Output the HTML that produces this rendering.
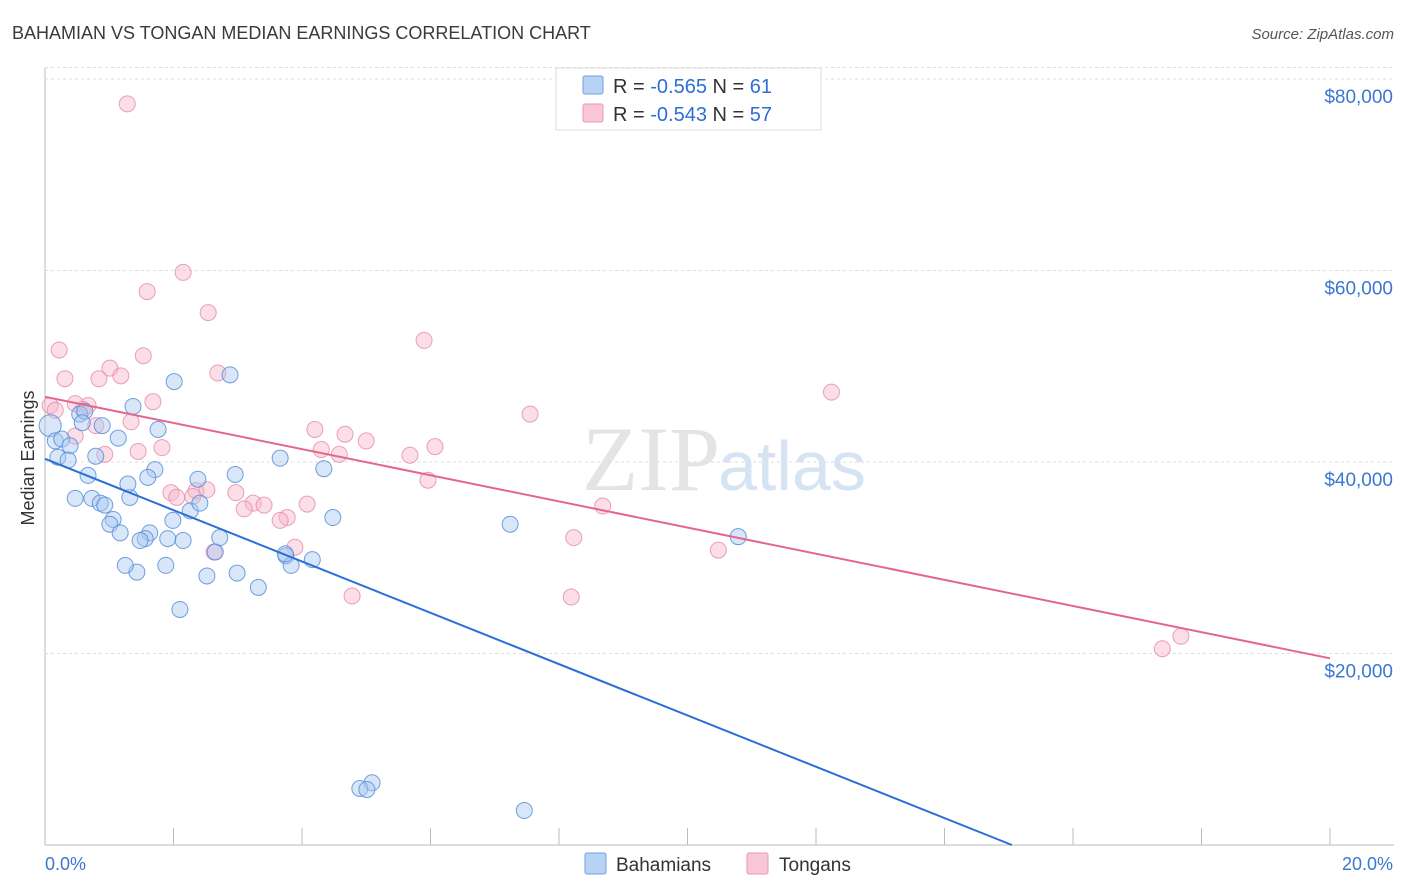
<!DOCTYPE html>
<html><head><meta charset="utf-8"><style>
body{margin:0;background:#fff;font-family:"Liberation Sans",sans-serif;}
svg{display:block}
</style></head><body>
<svg id="c" width="1406" height="892">
<text x="12" y="39" font-size="18" fill="#3a3a3a">BAHAMIAN VS TONGAN MEDIAN EARNINGS CORRELATION CHART</text>
<text x="1394" y="39" font-size="15" fill="#555" font-style="italic" text-anchor="end">Source: ZipAtlas.com</text>
<text x="34" y="458" font-size="18" fill="#333" text-anchor="middle" transform="rotate(-90 34 458)">Median Earnings</text>
<g id="grid"></g>
<text x="720" y="490" font-size="92" fill="#e4e4e4" text-anchor="end" font-family="Liberation Serif">ZIP</text>
<text x="718" y="490" font-size="70" fill="#d6e3f3">atlas</text>
<g id="pts"></g>
<g id="lines"></g>
<g>
<rect x="556" y="68" width="265" height="62" fill="#fff" stroke="#ddd"/>
<rect x="583" y="76" width="20" height="18" fill="#b8d2f4" stroke="#6fa0e0" rx="2"/>
<rect x="583" y="104" width="20" height="18" fill="#f8c6d4" stroke="#e89ab2" rx="2"/>
<text x="613" y="93" font-size="20" fill="#333">R = <tspan fill="#2b6fd6">-0.565</tspan>   N =  <tspan fill="#2b6fd6">61</tspan></text>
<text x="613" y="121" font-size="20" fill="#333">R = <tspan fill="#2b6fd6">-0.543</tspan>   N = <tspan fill="#2b6fd6">57</tspan></text>
</g>
<g>
<rect x="585" y="853" width="21" height="21" fill="#b8d2f4" stroke="#6fa0e0" rx="2"/>
<text x="616" y="871" font-size="19" fill="#333">Bahamians</text>
<rect x="747" y="853" width="21" height="21" fill="#f8c6d4" stroke="#e89ab2" rx="2"/>
<text x="779" y="871" font-size="19" fill="#333">Tongans</text>
</g>
<text x="45" y="870" font-size="18" fill="#3a78d0">0.0%</text>
<text x="1393" y="870" font-size="18" fill="#3a78d0" text-anchor="end">20.0%</text>
</svg>
<script>
const yTicks=[20000,40000,60000,80000];
const yTickLabels=["$20,000","$40,000","$60,000","$80,000"];
const xTicks=[0,2,4,6,8,10,12,14,16,18,20];
const bahamianX=[0.08,0.16,0.26,0.39,0.2,0.36,0.54,0.62,0.58,0.89,1.14,0.79,0.67,0.47,0.73,0.86,0.93,1.32,1.29,1.37,1.76,1.71,1.6,1.06,1.01,1.17,1.63,1.56,1.48,1.99,1.91,2.15,2.26,2.41,2.38,2.01,2.88,2.96,3.66,4.34,4.48,2.72,2.99,2.52,3.32,3.75,3.83,4.16,1.88,1.43,1.25,2.1,2.65,7.24,10.79,5.09,4.9,5.01,7.46,3.74];
const bahamianY=[43800,42200,42400,41700,40500,40200,45000,45300,44100,43800,42500,40600,38600,36200,36200,35700,35500,36300,37700,45800,43400,39200,38400,34000,33500,32600,32600,32000,31800,33900,32000,31800,34900,35700,38200,48400,49100,38700,40400,39300,34200,32100,28400,28100,26900,30200,29200,29800,29200,28500,29200,24600,30600,33500,32200,6500,5900,5800,3600,30400];
const tonganX=[1.28,2.15,1.59,2.54,0.22,1.53,0.31,0.84,1.01,1.18,2.69,5.9,12.24,7.55,0.08,0.16,0.59,0.67,1.68,1.34,0.79,0.47,4.2,4.67,5.0,4.3,4.58,1.82,1.45,6.07,5.68,5.96,1.96,2.35,2.52,2.97,3.24,3.41,3.1,3.77,4.08,3.66,2.05,2.3,2.63,3.89,8.68,8.23,10.48,4.78,8.19,17.68,17.39,0.93,0.47];
const tonganY=[77400,59800,57800,55600,51700,51100,48700,48700,49800,49000,49300,52700,47300,45000,45900,45400,45500,45900,46300,44200,43800,42700,43400,42900,42200,41300,40800,41500,41100,41600,40700,38100,36800,37000,37100,36800,35700,35500,35100,34200,35600,33900,36300,36400,30600,31100,35400,32100,30800,26000,25900,21800,20500,40800,46100];
const ns="http://www.w3.org/2000/svg";
const X0=45,X1=1330,Y0=845,PXY=191.5/20000;
const xs=v=>X0+(v/20)*(X1-X0), ys=v=>Y0-v*PXY;
const g=document.getElementById('grid');
function mk(t,a,p){const e=document.createElementNS(ns,t);for(const k in a)e.setAttribute(k,a[k]);p.appendChild(e);return e;}
let ax=mk('line',{x1:45,y1:68,x2:45,y2:845,stroke:'#bbb'},g);


let bx=mk('line',{x1:45,y1:845,x2:1394,y2:845,stroke:'#bbb'},g);


yTicks.forEach((v,i)=>{
 let l=mk('line',{x1:45,x2:1394,y1:ys(v),y2:ys(v),stroke:'#ddd','stroke-dasharray':'3,3'},g);
 
 
 let t=mk('text',{x:1393,y:ys(v)+24,'font-size':19,fill:'#3a78d0','text-anchor':'end'},g);
 t.textContent=yTickLabels[i];
 
 
});
let tg=mk('line',{x1:45,x2:1394,y1:ys(81200),y2:ys(81200),stroke:'#ddd','stroke-dasharray':'3,3'},g);
xTicks.forEach(v=>{
 let l=mk('line',{x1:xs(v),x2:xs(v),y1:828,y2:845,stroke:'#bbb'},g);
 
 
});
const P=document.getElementById('pts');
function series(X,Y,fill,stroke,name){
 X.forEach((x,i)=>{
  let r=(i===0&&name==='bahamian-point')?11:8;
  let c=mk('circle',{cx:xs(x),cy:ys(Y[i]),r:r,fill:fill,'fill-opacity':0.45,stroke:stroke,'stroke-opacity':0.8,'stroke-width':1},P);
  
  
 });
}
series(tonganX,tonganY,'#f7b6c9','#e68aa8','tongan-point');
series(bahamianX,bahamianY,'#a9c8f0','#4d8ad8','bahamian-point');
function fit(X,Y){const n=X.length;let mx=0,my=0;X.forEach((x,i)=>{mx+=x;my+=Y[i]});mx/=n;my/=n;let sxy=0,sxx=0;X.forEach((x,i)=>{sxy+=(x-mx)*(Y[i]-my);sxx+=(x-mx)**2});const b=sxy/sxx;return [my-b*mx,b];}
const L=document.getElementById('lines');
let [ab,bb]=fit(bahamianX,bahamianY);
let xe=Math.min(20,-ab/bb);
let bl=mk('line',{x1:xs(0),y1:ys(ab),x2:xs(xe),y2:ys(ab+bb*xe),stroke:'#2a6fd8','stroke-width':2},L);


let [at,bt]=fit(tonganX,tonganY);
let tl=mk('line',{x1:xs(0),y1:ys(at),x2:xs(20),y2:ys(at+bt*20),stroke:'#e4668f','stroke-width':2},L);


</script>
</body></html>
